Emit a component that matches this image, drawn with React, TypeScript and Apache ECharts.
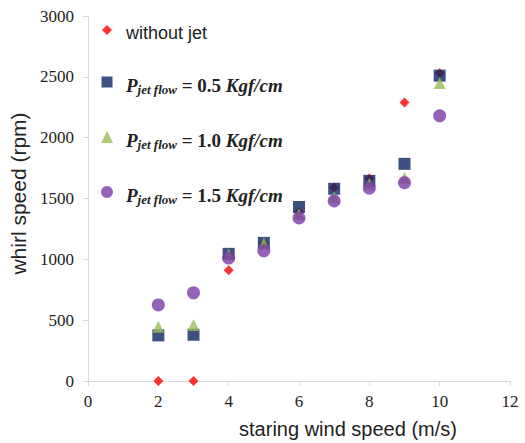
import React, { useEffect, useRef } from "react";
import * as echarts from "echarts";

const windSpeed = [2, 3, 4, 5, 6, 7, 8, 9, 10];
const withoutJet = [0, 0, 910, 1130, 1390, 1590, 1665, 2290, 2530];
const jet05 = [375, 380, 1045, 1135, 1430, 1580, 1645, 1785, 2510];
const jet10 = [445, 460, 1040, 1130, 1370, 1510, 1620, 1670, 2450];
const jet15 = [625, 725, 1010, 1070, 1340, 1480, 1585, 1630, 2180];

const seriesNames = ["without jet", "jet 0.5", "jet 1.0", "jet 1.5"];
const jetPressures = ["", "0.5", "1.0", "1.5"];
const seriesColors = ["#ff0000", "#0b2463", "#9bbb59", "#7a3aa8"];
const seriesSymbols = ["diamond", "rect", "triangle", "circle"];
const symbolSizes = [10, 12, 12, 13];
const legendIconSizes = [10, 11, 12, 12];
const legendIconY = [25, 82, 137, 192];

const serif = "Liberation Serif";
const sans = "Liberation Sans";

export default function App() {
  const ref = useRef<HTMLDivElement>(null);
  useEffect(() => {
    if (!ref.current) return;
    const chart = echarts.init(ref.current, null, { renderer: "svg" });
    const data = [withoutJet, jet05, jet10, jet15];

    const tok = (extra: any) => ({
      color: "#222",
      verticalAlign: "bottom",
      height: 24,
      lineHeight: 24,
      ...extra,
    });

    const legends = seriesNames.map((name, i) => ({
      data: [name],
      left: 107 - legendIconSizes[i] / 2,
      top: legendIconY[i] - 15 + (i === 0 ? 5 : 0),
      padding: 0,
      orient: "vertical",
      selectedMode: false,
      itemWidth: legendIconSizes[i],
      itemHeight: legendIconSizes[i],
      formatter: (n: string) => {
        if (i === 0) return "{g|}{w|" + n + "}";
        return (
          "{g|}{p|P}{s|jet flow}{e| = }{n|" +
          jetPressures[i] +
          "}{k| Kgf/cm}"
        );
      },
      textStyle: {
        lineHeight: 30,
        rich: {
          g: { width: 14 - legendIconSizes[i] / 2, lineHeight: 30 },
          w: tok({ fontFamily: sans, fontSize: 18 }),
          p: tok({ fontFamily: serif, fontSize: 19, fontWeight: "bold", fontStyle: "italic" }),
          s: tok({ fontFamily: serif, fontSize: 13, fontWeight: "bold", fontStyle: "italic", height: 16, lineHeight: 16 }),
          e: tok({ fontFamily: serif, fontSize: 19, fontWeight: "bold" }),
          n: tok({ fontFamily: serif, fontSize: 19, fontWeight: "bold" }),
          k: tok({ fontFamily: serif, fontSize: 19, fontWeight: "bold", fontStyle: "italic" }),
        },
      },
    }));

    chart.setOption({
      animation: false,
      backgroundColor: "#ffffff",
      grid: { left: 88, right: 15, top: 16, bottom: 62, containLabel: false, outerBoundsMode: "none" },
      legend: legends,
      xAxis: {
        type: "value",
        min: 0,
        max: 12,
        interval: 2,
        name: "staring wind speed (m/s)",
        nameLocation: "middle",
        nameGap: 38,
        nameTextStyle: { fontFamily: sans, fontSize: 20, color: "#222", padding: [0, 0, 0, 98] },
        axisLine: { show: true, onZero: true, lineStyle: { color: "#d9d9d9", width: 1 } },
        axisTick: { show: true, length: 5, lineStyle: { color: "#d9d9d9" } },
        splitLine: { show: false },
        axisLabel: { fontFamily: serif, fontSize: 17, color: "#222", margin: 12 },
      },
      yAxis: {
        type: "value",
        min: 0,
        max: 3000,
        interval: 500,
        name: "whirl speed (rpm)",
        nameLocation: "middle",
        nameGap: 43,
        nameTextStyle: { fontFamily: sans, fontSize: 21, color: "#222", padding: [0, 0, 0, 10] },
        axisLine: { show: true, onZero: true, lineStyle: { color: "#d9d9d9", width: 1 } },
        axisTick: { show: true, length: 5, lineStyle: { color: "#d9d9d9" } },
        splitLine: { show: false },
        axisLabel: {
          fontFamily: serif,
          fontSize: 17,
          color: "#222",
          margin: 14,
          formatter: (v: number) => String(v),
        },
      },
      series: seriesNames.map((name, i) => ({
        name,
        type: "scatter",
        symbol: seriesSymbols[i],
        symbolSize: symbolSizes[i],
        itemStyle: { color: seriesColors[i] },
        data: windSpeed.map((x, j) => [x, data[i][j]]),
        z: 2 + i,
      })),
    });
    return () => chart.dispose();
  }, []);
  return (
    <div
      ref={ref}
      style={{ position: "fixed", left: 0, top: 0, width: 525, height: 443 }}
    />
  );
}
